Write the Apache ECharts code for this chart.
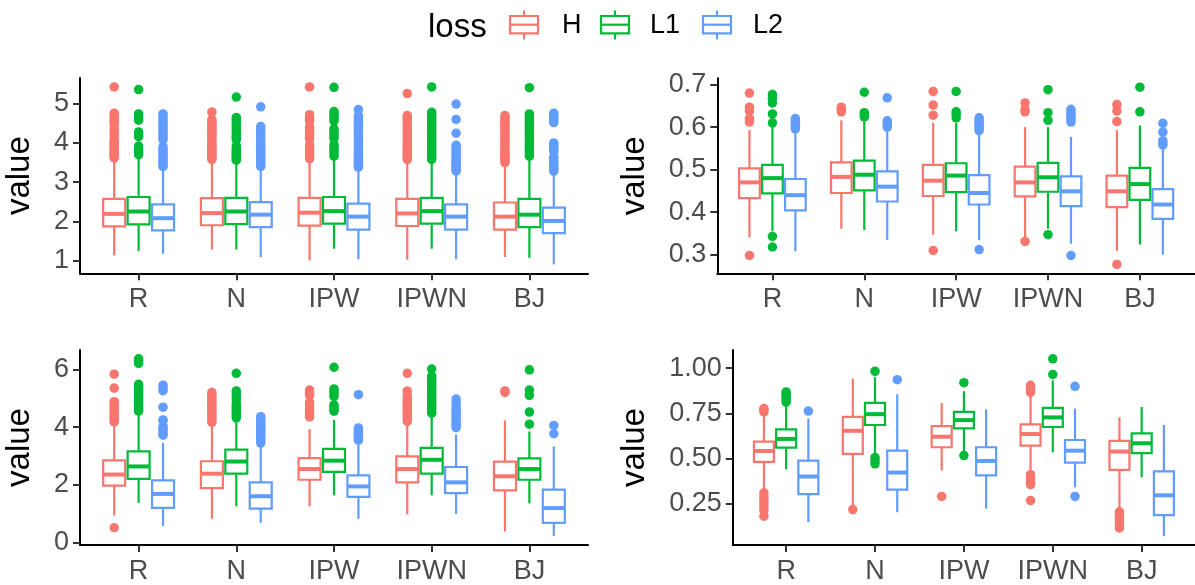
<!DOCTYPE html>
<html>
<head>
<meta charset="utf-8">
<script src="https://cdn.jsdelivr.net/npm/echarts@6/dist/echarts.min.js"></script>
<style>
  html, body { margin: 0; padding: 0; background: #fff; }
  #chart { width: 1195px; height: 585px; }
</style>
</head>
<body>
<div id="chart"></div>
<script>
// Methods on the x axis and the loss functions (legend order)
const categories = ['R', 'N', 'IPW', 'IPWN', 'BJ'];
const losses = ['H', 'L1', 'L2'];
const lossColors = ['#F8766D', '#00BA38', '#619CFF'];

// Box statistics per method: [lower whisker, Q1, median, Q3, upper whisker]
// Panel 1 (top left)
const p1H  = [[1.13,1.87,2.19,2.57,3.58],[1.28,1.90,2.21,2.59,3.52],[1.00,1.89,2.22,2.60,3.56],[1.02,1.88,2.20,2.57,3.52],[1.09,1.79,2.12,2.48,3.45]];
const p1L1 = [[1.24,1.92,2.25,2.62,3.65],[1.28,1.93,2.25,2.60,3.52],[1.30,1.94,2.26,2.62,3.62],[1.30,1.94,2.26,2.60,3.52],[1.07,1.85,2.17,2.57,3.60]];
const p1L2 = [[1.17,1.77,2.08,2.43,3.30],[1.09,1.85,2.17,2.49,3.33],[1.03,1.79,2.12,2.45,3.34],[1.03,1.79,2.12,2.43,3.22],[0.90,1.70,2.01,2.35,3.22]];
// Panel 2 (top right)
const p2H  = [[0.341,0.433,0.470,0.503,0.593],[0.361,0.445,0.483,0.517,0.616],[0.347,0.438,0.474,0.511,0.610],[0.340,0.437,0.470,0.507,0.600],[0.309,0.412,0.449,0.486,0.593]];
const p2L1 = [[0.355,0.444,0.480,0.511,0.605],[0.358,0.451,0.488,0.521,0.618],[0.355,0.447,0.486,0.515,0.610],[0.361,0.448,0.482,0.516,0.600],[0.324,0.429,0.466,0.504,0.604]];
const p2L2 = [[0.308,0.404,0.440,0.478,0.590],[0.335,0.425,0.460,0.496,0.595],[0.334,0.418,0.445,0.487,0.585],[0.326,0.414,0.449,0.484,0.577],[0.300,0.384,0.418,0.454,0.550]];
// Panel 3 (bottom left)
const p3H  = [[0.94,1.98,2.36,2.85,4.12],[0.83,1.89,2.39,2.82,4.10],[1.26,2.18,2.55,2.93,3.93],[0.98,2.09,2.55,2.99,4.14],[0.39,1.81,2.30,2.81,4.23]];
const p3L1 = [[1.38,2.21,2.64,3.16,4.48],[1.26,2.39,2.81,3.22,4.25],[1.64,2.45,2.84,3.25,4.25],[1.64,2.39,2.87,3.28,4.39],[1.36,2.18,2.55,2.92,3.85]];
const p3L2 = [[0.58,1.21,1.69,2.16,3.45],[0.69,1.18,1.61,2.09,3.39],[0.83,1.59,1.95,2.33,3.45],[1.00,1.72,2.09,2.62,3.74],[0.23,0.69,1.20,1.84,3.33]];
// Panel 4 (bottom right)
const p4H  = [[0.330,0.481,0.541,0.593,0.734],[0.240,0.525,0.653,0.730,0.941],[0.433,0.562,0.620,0.679,0.807],[0.419,0.571,0.635,0.688,0.850],[0.217,0.437,0.538,0.597,0.727]];
const p4L1 = [[0.440,0.560,0.608,0.661,0.795],[0.520,0.685,0.745,0.807,0.950],[0.538,0.666,0.712,0.758,0.872],[0.534,0.674,0.727,0.780,0.932],[0.395,0.529,0.584,0.639,0.785]];
const p4L2 = [[0.147,0.303,0.400,0.488,0.721],[0.202,0.327,0.422,0.543,0.855],[0.222,0.406,0.486,0.562,0.771],[0.340,0.477,0.543,0.602,0.776],[0.070,0.186,0.296,0.428,0.685]];

// Outlying observations per method
const p1HOut = [
  [3.62,3.66,3.70,3.74,3.78,3.82,3.86,3.90,3.94,3.98,4.02,4.08,4.18,4.26,4.32,4.45,4.52,4.58,4.64,4.70,4.76,5.43],
  [3.58,3.62,3.66,3.70,3.74,3.78,3.82,3.86,3.90,3.95,4.00,4.05,4.10,4.15,4.20,4.25,4.30,4.35,4.40,4.45,4.50,4.55,4.60,4.79],
  [3.60,3.65,3.70,3.75,3.80,3.85,3.90,3.95,4.10,4.16,4.22,4.28,4.34,4.40,4.55,4.60,4.66,4.72,5.43],
  [3.58,3.63,3.68,3.73,3.78,3.84,3.90,3.96,4.02,4.10,4.16,4.22,4.30,4.36,4.44,4.52,4.58,4.64,4.70,5.26],
  [3.50,3.55,3.60,3.65,3.70,3.75,3.80,3.85,3.92,3.98,4.04,4.10,4.16,4.22,4.28,4.34,4.40,4.46,4.52,4.58,4.64,4.70]];
const p1L1Out = [
  [3.70,3.75,3.80,3.86,3.92,4.16,4.22,4.28,4.58,4.64,4.70,4.74,5.36],
  [3.56,3.61,3.66,3.71,3.76,3.81,3.86,3.92,4.08,4.14,4.20,4.26,4.34,4.42,4.50,4.58,4.65,5.17],
  [3.66,3.72,3.78,3.84,3.90,3.96,4.12,4.18,4.24,4.30,4.36,4.56,4.62,4.68,4.74,4.80,5.42],
  [3.58,3.64,3.70,3.76,3.82,3.88,3.94,4.00,4.06,4.12,4.18,4.24,4.30,4.36,4.42,4.48,4.54,4.60,4.66,4.72,4.78,5.43],
  [3.66,3.72,3.78,3.84,3.90,3.96,4.02,4.08,4.14,4.20,4.26,4.32,4.38,4.44,4.50,4.56,4.62,4.68,4.74,5.41]];
const p1L2Out = [
  [3.40,3.45,3.50,3.55,3.60,3.66,3.72,3.78,3.84,3.90,4.08,4.14,4.20,4.26,4.32,4.38,4.44,4.50,4.56,4.62,4.68,4.74],
  [3.40,3.45,3.50,3.55,3.60,3.66,3.72,3.78,3.84,3.90,3.96,4.02,4.10,4.18,4.26,4.34,4.42,4.92],
  [3.38,3.43,3.48,3.53,3.58,3.63,3.68,3.74,3.80,3.86,3.92,3.98,4.04,4.10,4.16,4.22,4.28,4.34,4.40,4.46,4.52,4.58,4.64,4.70,4.85],
  [3.28,3.33,3.38,3.43,3.48,3.53,3.58,3.64,3.70,3.76,3.82,3.88,3.94,4.25,4.60,4.99],
  [3.28,3.34,3.40,3.46,3.52,3.58,3.64,3.78,3.84,3.90,3.96,4.00,4.52,4.58,4.64,4.70,4.76]];

const p2HOut = [
  [0.612,0.620,0.638,0.647,0.680,0.298],
  [0.636,0.641,0.647],
  [0.628,0.652,0.684,0.310],
  [0.636,0.641,0.657,0.331],
  [0.613,0.638,0.653,0.277]];
const p2L1Out = [
  [0.610,0.631,0.657,0.668,0.677,0.343,0.318],
  [0.624,0.629,0.634,0.682],
  [0.622,0.630,0.636,0.684],
  [0.616,0.634,0.688,0.347],
  [0.636,0.694]];
const p2L2Out = [
  [0.596,0.600,0.604,0.608,0.612,0.616,0.620],
  [0.600,0.605,0.610,0.615,0.669],
  [0.592,0.597,0.602,0.607,0.612,0.617,0.622,0.312],
  [0.612,0.618,0.624,0.630,0.636,0.642,0.298],
  [0.558,0.563,0.568,0.588,0.609]];

const p3HOut = [
  [4.18,4.25,4.32,4.40,4.48,4.56,4.64,4.72,4.80,4.88,5.35,5.83,0.52],
  [4.16,4.24,4.32,4.40,4.48,4.56,4.64,4.72,4.80,4.88,4.96,5.04,5.12,5.20],
  [4.35,4.45,4.55,4.65,4.75,4.85,5.10,5.20,5.28],
  [4.20,4.28,4.36,4.44,4.52,4.60,4.68,4.76,4.84,4.92,5.00,5.10,5.25,5.86],
  [5.20,5.25]];
const p3L1Out = [
  [4.55,4.62,4.70,4.78,4.86,4.94,5.02,5.10,5.18,5.26,5.34,5.42,5.48,6.20,6.30,6.36],
  [4.32,4.40,4.48,4.56,4.64,4.72,4.80,4.95,5.05,5.15,5.25,5.86],
  [4.55,4.62,4.70,4.77,5.06,5.15,5.24,5.32,6.07],
  [4.48,4.56,4.64,4.72,4.80,4.88,4.96,5.04,5.12,5.20,5.28,5.36,5.44,5.52,5.60,5.68,5.76,6.01],
  [4.10,4.52,5.10,5.28,5.98]];
const p3L2Out = [
  [3.72,3.80,3.88,3.96,4.03,4.22,4.25,4.69,5.26,5.35,5.45],
  [3.45,3.52,3.59,3.66,3.73,3.80,3.87,3.94,4.01,4.08,4.15,4.22,4.29,4.36],
  [3.55,3.61,3.67,3.73,3.79,3.85,3.91,3.97,5.12],
  [3.98,4.06,4.14,4.22,4.30,4.38,4.46,4.54,4.62,4.72,4.85,4.97],
  [3.77,4.06]];

const p4HOut = [
  [0.758,0.768,0.776,0.310,0.290,0.270,0.250,0.230,0.210,0.180],
  [0.217],
  [0.290],
  [0.905,0.895,0.885,0.875,0.865,0.410,0.395,0.380,0.365,0.355,0.267],
  [0.205,0.190,0.175,0.160,0.145,0.130,0.115]];
const p4L1Out = [
  [0.812,0.825,0.838,0.850,0.862,0.868],
  [0.982,0.505,0.490,0.470],
  [0.919,0.516],
  [0.965,1.051],
  []];
const p4L2Out = [
  [0.762],
  [0.936],
  [],
  [0.899,0.290],
  []];

// Y-axis tick values per panel
const p1Ticks = [1, 2, 3, 4, 5];
const p2Ticks = [0.3, 0.4, 0.5, 0.6, 0.7];
const p3Ticks = [0, 2, 4, 6];
const p4Ticks = [0.25, 0.5, 0.75, 1.0];

// ---------------------------------------------------------------------------
const FONT = '"Liberation Sans", Arial, Helvetica, sans-serif';
const DODGE = [-0.25, 0, 0.25];   // box offsets within a method slot
const BOX_W = 0.225;              // box width in x units
const LINE_W = 2.2;               // box / whisker stroke

const panels = [
  { stats: [p1H, p1L1, p1L2], outs: [p1HOut, p1L1Out, p1L2Out], ticks: p1Ticks, digits: 0,
    grid: { left: 80, top: 78, width: 508, height: 195.3 }, nameGap: 44 },
  { stats: [p2H, p2L1, p2L2], outs: [p2HOut, p2L1Out, p2L2Out], ticks: p2Ticks, digits: 1,
    grid: { left: 717.3, top: 78.3, width: 486, height: 195 }, nameGap: 66 },
  { stats: [p3H, p3L1, p3L2], outs: [p3HOut, p3L1Out, p3L2Out], ticks: p3Ticks, digits: 0,
    grid: { left: 80, top: 350, width: 508, height: 195.3 }, nameGap: 44 },
  { stats: [p4H, p4L1, p4L2], outs: [p4HOut, p4L1Out, p4L2Out], ticks: p4Ticks, digits: 2,
    grid: { left: 732.8, top: 350, width: 470, height: 195.3 }, nameGap: 81 }
];

// y range: data extent expanded by 5% on each side
function yRange(p) {
  let lo = Infinity, hi = -Infinity;
  p.stats.forEach(s => s.forEach(b => { lo = Math.min(lo, b[0]); hi = Math.max(hi, b[4]); }));
  p.outs.forEach(s => s.forEach(list => list.forEach(v => { lo = Math.min(lo, v); hi = Math.max(hi, v); })));
  const pad = (hi - lo) * 0.05;
  return [lo - pad, hi + pad];
}

const grids = [], xAxes = [], yAxes = [], series = [];

panels.forEach((p, pi) => {
  grids.push(Object.assign({ containLabel: false }, p.grid));
  xAxes.push({
    type: 'value', gridIndex: pi, min: 0.4, max: 5.6,
    axisLine: { show: true, onZero: false, lineStyle: { color: '#000', width: 2 } },
    axisTick: { show: true, length: 7, lineStyle: { color: '#333', width: 2 }, customValues: [1, 2, 3, 4, 5] },
    axisLabel: { show: true, customValues: [1, 2, 3, 4, 5], margin: 13,
      formatter: v => categories[Math.round(v) - 1] || '',
      color: '#4D4D4D', fontSize: 27, fontFamily: FONT },
    splitLine: { show: false }
  });
  const r = yRange(p);
  yAxes.push({
    type: 'value', gridIndex: pi, min: r[0], max: r[1],
    name: 'value', nameLocation: 'middle', nameGap: p.nameGap,
    nameTextStyle: { color: '#000', fontSize: 33, fontFamily: FONT },
    axisLine: { show: true, onZero: false, lineStyle: { color: '#000', width: 2 } },
    axisTick: { show: true, length: 7, lineStyle: { color: '#333', width: 2 }, customValues: p.ticks },
    axisLabel: { show: true, customValues: p.ticks, margin: 11,
      formatter: v => v.toFixed(p.digits),
      color: '#4D4D4D', fontSize: 27, fontFamily: FONT },
    splitLine: { show: false }
  });

  losses.forEach((loss, li) => {
    const color = lossColors[li];
    // outliers
    const pts = [];
    p.outs[li].forEach((list, ci) => list.forEach(v => pts.push([ci + 1 + DODGE[li], v])));
    series.push({
      type: 'scatter', name: loss, xAxisIndex: pi, yAxisIndex: pi,
      data: pts, symbol: 'circle', symbolSize: 9.5,
      itemStyle: { color: color, opacity: 1 }, silent: true, z: 2
    });
    // boxes and whiskers
    const boxes = p.stats[li].map((b, ci) => [ci + 1 + DODGE[li]].concat(b));
    series.push({
      type: 'custom', name: loss, xAxisIndex: pi, yAxisIndex: pi,
      data: boxes, silent: true, z: 3,
      encode: { x: 0, y: [1, 2, 3, 4, 5] },
      renderItem: (params, api) => {
        const x = api.value(0);
        const lo = api.coord([x, api.value(1)]);
        const q1 = api.coord([x, api.value(2)]);
        const md = api.coord([x, api.value(3)]);
        const q3 = api.coord([x, api.value(4)]);
        const hi = api.coord([x, api.value(5)]);
        const half = api.size([BOX_W, 0])[0] / 2;
        const cx = lo[0];
        return {
          type: 'group',
          children: [
            { type: 'line', shape: { x1: cx, y1: lo[1], x2: cx, y2: q1[1] }, style: { stroke: color, lineWidth: LINE_W } },
            { type: 'line', shape: { x1: cx, y1: q3[1], x2: cx, y2: hi[1] }, style: { stroke: color, lineWidth: LINE_W } },
            { type: 'rect', shape: { x: cx - half, y: q3[1], width: half * 2, height: q1[1] - q3[1] },
              style: { fill: '#fff', stroke: color, lineWidth: LINE_W } },
            { type: 'line', shape: { x1: cx - half, y1: md[1], x2: cx + half, y2: md[1] },
              style: { stroke: color, lineWidth: 4 } }
          ]
        };
      }
    });
  });
});

// Legend: title plus one boxplot key per loss
const legendKeys = [{ cx: 524, tx: 562 }, { cx: 615, tx: 650 }, { cx: 717, tx: 753 }];
const legendEls = [{
  type: 'text', left: 428, top: 11,
  style: { text: 'loss', fontSize: 33, fontFamily: FONT, fill: '#000' }
}];
losses.forEach((loss, i) => {
  const c = lossColors[i], k = legendKeys[i];
  legendEls.push(
    { type: 'line', shape: { x1: k.cx, y1: 10.5, x2: k.cx, y2: 39.5 }, style: { stroke: c, lineWidth: LINE_W } },
    { type: 'rect', shape: { x: k.cx - 14, y: 16, width: 28, height: 17.3 }, style: { fill: '#fff', stroke: c, lineWidth: LINE_W } },
    { type: 'line', shape: { x1: k.cx - 14, y1: 24.7, x2: k.cx + 14, y2: 24.7 }, style: { stroke: c, lineWidth: LINE_W } },
    { type: 'text', left: k.tx, top: 12, style: { text: loss, fontSize: 27, fontFamily: FONT, fill: '#000' } }
  );
});

const chart = echarts.init(document.getElementById('chart'), null, { renderer: 'canvas' });
chart.setOption({
  animation: false,
  backgroundColor: '#fff',
  grid: grids,
  xAxis: xAxes,
  yAxis: yAxes,
  series: series,
  graphic: legendEls
});
</script>
</body>
</html>
